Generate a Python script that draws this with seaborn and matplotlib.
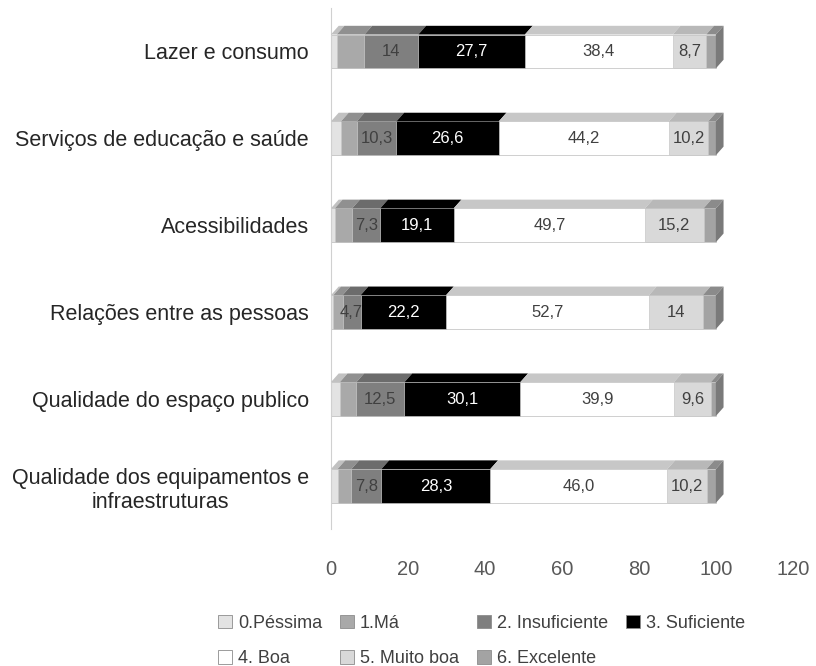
import numpy as np
import pandas as pd
import matplotlib
matplotlib.use("Agg")
import matplotlib.pyplot as plt
import matplotlib.colors as mcolors
from matplotlib.patches import Patch, Polygon
import seaborn as sns

# Dados (percentagens)
categorias = ["Lazer e consumo",
              "Serviços de educação e saúde",
              "Acessibilidades",
              "Relações entre as pessoas",
              "Qualidade do espaço publico",
              "Qualidade dos equipamentos e\ninfraestruturas"]
niveis = ["0.Péssima", "1.Má", "2. Insuficiente", "3. Suficiente",
          "4. Boa", "5. Muito boa", "6. Excelente"]

pessima = [1.5, 2.6, 1.0, 0.6, 2.3, 1.7]
ma = [7.2, 4.1, 4.5, 2.4, 4.3, 3.6]
insuficiente = ["14", "10,3", "7,3", "4,7", "12,5", "7,8"]
suficiente = ["27,7", "26,6", "19,1", "22,2", "30,1", "28,3"]
boa = ["38,4", "44,2", "49,7", "52,7", "39,9", "46,0"]
muito_boa = ["8,7", "10,2", "15,2", "14", "9,6", "10,2"]
excelente = [2.5, 2.0, 3.2, 3.4, 1.3, 2.4]

cores = ["#e3e3e3", "#a9a9a9", "#7f7f7f", "#000000", "#ffffff", "#d9d9d9", "#a3a3a3"]
cor_texto = ["#404040", "#404040", "#404040", "#ffffff", "#404040", "#404040", "#404040"]


def to_num(lst):
    return [float(str(v).replace(",", ".")) for v in lst]


def escurecer(c, f):
    r, g, b = mcolors.to_rgb(c)
    return (r * f, g * f, b * f)


series = [pessima, ma, to_num(insuficiente), to_num(suficiente),
          to_num(boa), to_num(muito_boa), excelente]
rotulos = [None, None, insuficiente, suficiente, boa, muito_boa, None]

df = pd.DataFrame({n: s for n, s in zip(niveis, series)})
df["categoria"] = categorias
acum = df[niveis].cumsum(axis=1)

sns.set_style("white")
plt.rcParams["font.family"] = ["Liberation Sans", "DejaVu Sans"]

fig = plt.figure(figsize=(8.16, 6.66), dpi=100)
ax = fig.add_axes([0.4056, 0.205, 0.566, 0.783])

largura = 0.39
# barras empilhadas: desenhar do total acumulado para o início
for i in range(len(niveis) - 1, -1, -1):
    sns.barplot(x=acum[niveis[i]], y=df["categoria"], order=categorias,
                orient="h", color=cores[i], width=largura,
                edgecolor="#c8c8c8", linewidth=0.5, ax=ax)

# efeito 3D simples: face superior e face lateral
dx, dy = 2.0, 0.1
for j in range(len(categorias)):
    topo = j - largura / 2
    for i in range(len(niveis)):
        x1 = acum[niveis[i]].iloc[j]
        x0 = x1 - series[i][j]
        f = 0.78 if i == 4 else 0.85
        ax.add_patch(Polygon([(x0, topo), (x1, topo), (x1 + dx, topo - dy), (x0 + dx, topo - dy)],
                             closed=True, facecolor=escurecer(cores[i], f),
                             edgecolor="none", zorder=3))
    xt = acum[niveis[-1]].iloc[j]
    ax.add_patch(Polygon([(xt, topo), (xt + dx, topo - dy), (xt + dx, j + largura / 2 - dy),
                          (xt, j + largura / 2)],
                         closed=True, facecolor="#7a7a7a", edgecolor="none", zorder=3))

# rótulos dos segmentos
for i, lab in enumerate(rotulos):
    if lab is None:
        continue
    for j, txt in enumerate(lab):
        centro = acum[niveis[i]].iloc[j] - series[i][j] / 2
        ax.text(centro, j, txt, ha="center", va="center",
                fontsize=12, color=cor_texto[i], zorder=4)

ax.set_xlim(0, 120)
ax.set_xticks(range(0, 121, 20))
ax.set_xlabel("")
ax.set_ylabel("")
for s in ["top", "right", "bottom"]:
    ax.spines[s].set_visible(False)
ax.spines["left"].set_color("#d0d0d0")
ax.tick_params(axis="both", length=0)
ax.tick_params(axis="x", labelsize=14.5, labelcolor="#595959", pad=22)
ax.tick_params(axis="y", labelsize=15.5, labelcolor="#262626", pad=16)
for t in ax.get_yticklabels():
    t.set_multialignment("center")

# legenda preenchida por linhas (4 colunas)
ordem = [0, 4, 1, 5, 2, 6, 3]
handles = [Patch(facecolor=cores[k], edgecolor="#8c8c8c", linewidth=0.6) for k in ordem]
fig.legend(handles, [niveis[k] for k in ordem], loc="lower center",
           bbox_to_anchor=(0.59, -0.026),
           ncol=4, frameon=False, fontsize=13, labelcolor="#404040",
           handlelength=0.8, handleheight=0.8, handletextpad=0.3,
           columnspacing=1.0, labelspacing=1.0)

fig.savefig("out.png", dpi=100)
